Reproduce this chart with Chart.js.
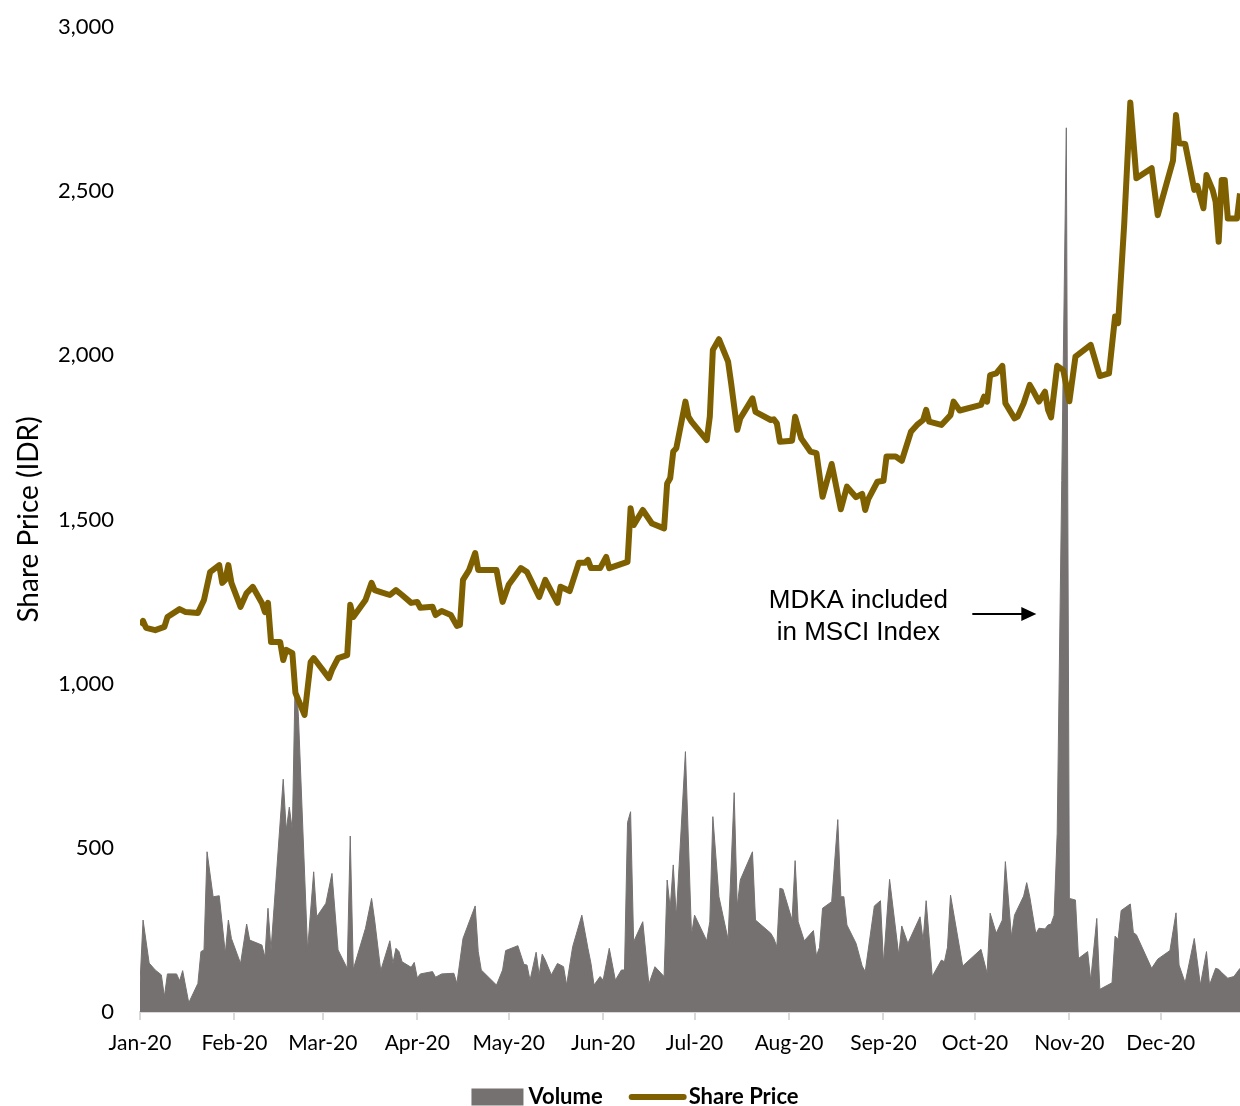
<!DOCTYPE html>
<html>
<head>
<meta charset="utf-8">
<script src="https://cdn.jsdelivr.net/npm/chart.js@4.4.1/dist/chart.umd.min.js"></script>
<style>
  html, body { margin: 0; padding: 0; background: #fff; }
</style>
</head>
<body>
<canvas id="chart" width="1240" height="1106"></canvas>
<script>
// x values are day of year 2020 (0 = 1 Jan)
const monthStarts = [0, 31, 60, 91, 121, 152, 182, 213, 244, 274, 305, 335];
const monthLabels = ['Jan-20', 'Feb-20', 'Mar-20', 'Apr-20', 'May-20', 'Jun-20',
                     'Jul-20', 'Aug-20', 'Sep-20', 'Oct-20', 'Nov-20', 'Dec-20'];

const priceDays = [0,1,2,5,8,9,13,15,19,21,23,26,27,28,29,30,33,35,37,40,41,42,43,46,47,48,50,51,54,56,57,62,63,65,68,69,70,74,76,77,79,82,84,86,89,91,92,96,97,99,102,104,105,106,108,110,111,117,118,119,121,125,127,131,133,137,138,141,144,146,147,148,151,153,154,160,161,162,165,168,172,173,174,175,176,179,180,181,186,187,188,190,193,194,196,197,201,202,207,208,209,210,214,215,217,220,222,224,227,230,232,235,237,238,239,242,244,245,248,250,253,255,257,258,259,263,266,267,269,276,277,278,279,281,283,284,287,288,290,292,293,295,297,298,299,301,303,305,307,312,315,318,320,321,323,325,327,332,334,339,340,341,343,346,347,349,350,352,353,354,355,356,357,360,361];
const prices = [1179,1191,1170,1163,1173,1203,1227,1218,1215,1255,1340,1361,1307,1316,1361,1307,1234,1276,1295,1246,1218,1246,1127,1127,1072,1103,1093,972,905,1066,1078,1017,1042,1078,1087,1240,1203,1255,1307,1285,1279,1270,1285,1270,1246,1249,1231,1234,1209,1221,1209,1176,1179,1316,1346,1398,1346,1346,1295,1249,1301,1352,1340,1264,1316,1246,1295,1282,1368,1368,1377,1352,1352,1386,1352,1371,1534,1483,1529,1488,1473,1610,1626,1707,1717,1859,1813,1798,1742,1813,2016,2049,1981,1915,1773,1808,1869,1828,1803,1805,1793,1737,1740,1813,1747,1707,1702,1569,1669,1531,1600,1568,1578,1529,1562,1615,1618,1692,1692,1679,1767,1788,1803,1834,1798,1788,1818,1859,1832,1849,1874,1859,1940,1945,1968,1854,1808,1813,1854,1910,1894,1859,1889,1834,1811,1968,1955,1860,1996,2032,1937,1945,2118,2098,2400,2770,2539,2570,2427,2593,2732,2646,2644,2504,2516,2448,2549,2504,2468,2346,2534,2534,2417,2417,2493];

const volumeDays = [0,1,3,5,7,8,9,12,13,14,16,19,20,21,22,24,26,28,29,30,33,35,36,40,41,42,43,47,48,49,50,51,52,55,57,58,61,63,65,68,69,70,74,76,77,79,82,83,84,85,86,89,90,91,92,96,97,99,103,104,106,110,111,112,117,119,120,124,126,127,128,130,131,132,133,135,137,139,140,142,145,147,148,149,151,152,154,156,158,159,160,161,162,165,167,169,172,173,174,175,176,179,181,182,186,187,188,190,193,195,196,197,201,202,207,208,209,210,211,214,215,216,218,221,222,223,224,227,229,230,231,232,235,237,238,241,243,244,246,249,250,252,256,257,258,260,263,264,265,266,270,276,278,279,281,283,284,286,287,290,291,292,294,295,297,298,299,300,301,304,305,307,308,311,312,314,315,319,320,321,322,325,326,327,332,334,338,340,341,343,346,348,350,351,353,354,355,357,359,361];
const volumes = [88,280,149,128,113,47,116,116,95,126,28,87,184,189,488,351,354,179,280,224,148,268,219,204,167,316,189,709,554,624,554,1052,899,189,427,290,331,422,189,133,536,130,255,346,280,126,217,148,194,184,153,136,151,104,116,123,106,116,118,87,224,323,184,128,82,128,187,202,145,143,97,182,113,176,158,113,148,138,82,199,295,194,148,82,108,97,194,97,128,128,577,610,214,275,85,138,108,402,316,448,290,793,235,295,217,275,595,351,221,668,321,402,488,280,240,224,199,377,374,280,461,275,217,248,171,197,316,336,586,351,351,265,209,140,123,323,339,148,404,174,262,209,290,217,339,108,158,153,197,356,140,191,118,301,240,280,458,229,295,353,394,351,238,255,253,265,268,295,544,2693,346,341,163,184,97,285,69,89,231,221,309,329,242,235,133,161,187,302,143,89,224,82,184,82,133,130,120,103,108,133];

const annotationText = ['MDKA included', 'in MSCI Index'];
const annotationDay = 304;
const annotationValue = 1212;

const priceColor = '#7f6000';
const volumeColor = '#767171';

const extras = {
  id: 'extras',
  afterDraw(chart) {
    const ctx = chart.ctx;
    const xs = chart.scales.x, ys = chart.scales.y;
    ctx.save();

    // arrow + note
    const tipX = xs.getPixelForValue(annotationDay) - 30;
    const ay = ys.getPixelForValue(annotationValue);
    ctx.strokeStyle = '#000';
    ctx.fillStyle = '#000';
    ctx.lineWidth = 2;
    ctx.beginPath();
    ctx.moveTo(tipX - 64, ay);
    ctx.lineTo(tipX - 12, ay);
    ctx.stroke();
    ctx.beginPath();
    ctx.moveTo(tipX, ay);
    ctx.lineTo(tipX - 15, ay - 7);
    ctx.lineTo(tipX - 15, ay + 7);
    ctx.closePath();
    ctx.fill();
    ctx.font = '26px "Liberation Sans", Arial, sans-serif';
    ctx.textAlign = 'center';
    ctx.textBaseline = 'middle';
    ctx.fillText(annotationText[0], tipX - 178, ay - 13);
    ctx.fillText(annotationText[1], tipX - 178, ay + 19);

    // legend
    const ds = chart.data.datasets;
    ctx.font = 'bold 22px Lato, sans-serif';
    ctx.textAlign = 'left';
    const w1 = ctx.measureText(ds[1].label).width;
    const w2 = ctx.measureText(ds[0].label).width;
    const total = 52 + 5 + w1 + 26 + 58 + 2 + w2;
    let lx = chart.width / 2 + 15 - total / 2;
    const ly = 1097;
    ctx.fillStyle = volumeColor;
    ctx.fillRect(lx, ly - 8.5, 52, 17);
    lx += 57;
    ctx.fillStyle = '#000';
    ctx.fillText(ds[1].label, lx, ly);
    lx += w1 + 26;
    ctx.strokeStyle = priceColor;
    ctx.lineWidth = 6;
    ctx.lineCap = 'round';
    ctx.beginPath();
    ctx.moveTo(lx + 3, ly);
    ctx.lineTo(lx + 55, ly);
    ctx.stroke();
    lx += 60;
    ctx.fillText(ds[0].label, lx, ly);

    ctx.restore();
  }
};

new Chart(document.getElementById('chart'), {
  type: 'line',
  data: {
    datasets: [{
      label: 'Share Price',
      data: priceDays.map((d, i) => ({ x: d, y: prices[i] })),
      borderColor: priceColor,
      borderWidth: 6,
      borderJoinStyle: 'round',
      pointRadius: 0,
      tension: 0,
      fill: false,
      order: 0
    }, {
      label: 'Volume',
      data: volumeDays.map((d, i) => ({ x: d, y: volumes[i] })),
      borderColor: volumeColor,
      backgroundColor: volumeColor,
      borderWidth: 1,
      pointRadius: 0,
      tension: 0,
      fill: 'origin',
      order: 1
    }]
  },
  options: {
    responsive: false,
    animation: false,
    layout: { padding: { top: 27, left: 0, right: 0, bottom: 0 } },
    plugins: {
      legend: { display: false },
      tooltip: { enabled: false }
    },
    scales: {
      x: {
        type: 'linear',
        min: 0,
        max: 361,
        afterBuildTicks: s => { s.ticks = monthStarts.map(v => ({ value: v })); },
        afterFit: s => { s.height = 94; },
        grid: { drawOnChartArea: false, color: '#d9d9d9', tickLength: 8, lineWidth: 2 },
        border: { color: '#d9d9d9', width: 2 },
        ticks: {
          autoSkip: false,
          maxRotation: 0,
          padding: 11,
          color: '#000',
          font: { family: 'Lato', size: 21 },
          callback: v => monthLabels[monthStarts.indexOf(v)]
        }
      },
      y: {
        min: 0,
        max: 3000,
        afterFit: s => { s.width = 140; },
        // tick marks hidden; tickLength only pushes the labels away from the plot
        grid: { display: false, drawTicks: true, tickLength: 26 },
        border: { display: false },
        ticks: {
          stepSize: 500,
          padding: 0,
          color: '#000',
          font: { family: 'Lato', size: 22 },
          callback: v => v.toLocaleString('en-US')
        },
        title: {
          display: true,
          text: 'Share Price (IDR)',
          color: '#000',
          font: { family: 'Lato', size: 28 },
          padding: { top: 12, bottom: 0 }
        }
      }
    }
  },
  plugins: [extras]
});
</script>
</body>
</html>
